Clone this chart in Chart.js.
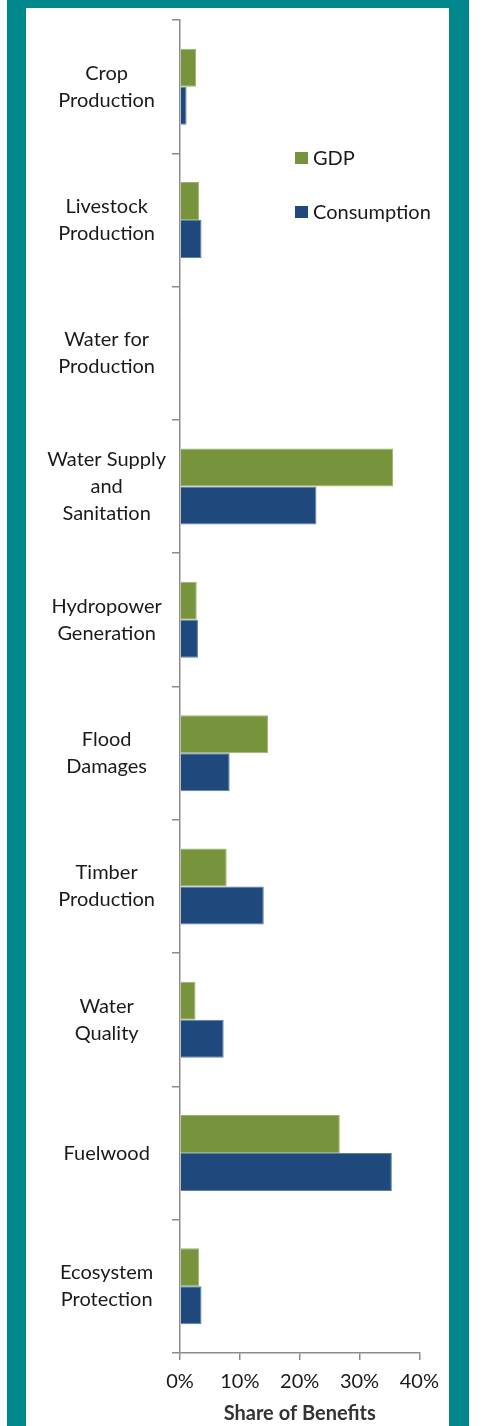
<!DOCTYPE html>
<html>
<head>
<meta charset="utf-8">
<script src="https://cdn.jsdelivr.net/npm/chart.js@4"></script>
<style>
    body { margin: 0; background: #ffffff; }
    #frame { position: absolute; left: 7px; top: 0; width: 462px; height: 1426px; background: #00878c; }
    #panel { position: absolute; left: 19px; top: 8px; width: 423px; height: 1418px; background: #ffffff; }
</style>
</head>
<body>
<div id="frame">
    <div id="panel">
        <canvas id="benefitsChart" width="423" height="1418"></canvas>
    </div>
</div>
<script>
// PART DES BENEFICES PAR SECTEUR

const categories = [
    ['Crop', 'Production'],
    ['Livestock', 'Production'],
    ['Water for', 'Production'],
    ['Water Supply', 'and', 'Sanitation'],
    ['Hydropower', 'Generation'],
    ['Flood', 'Damages'],
    ['Timber', 'Production'],
    ['Water', 'Quality'],
    'Fuelwood',
    ['Ecosystem', 'Protection'],
];

const gdpShare = [2.7, 3.2, 0.2, 35.6, 2.8, 14.7, 7.8, 2.6, 26.7, 3.2];
const consumptionShare = [1.1, 3.6, 0.15, 22.8, 3.0, 8.3, 14.0, 7.3, 35.4, 3.6];

const xTicks = [0, 10, 20, 30, 40];

const axisColor = '#8c8c8c';
const textFont = 'Lato, "Open Sans", sans-serif';

// legende a droite, dans la zone du graphique
const sideLegend = {
    id: 'sideLegend',
    afterDraw(chart) {
        const ctx = chart.ctx;
        const rows = [150, 204];
        ctx.save();
        ctx.font = '20px ' + textFont;
        ctx.textBaseline = 'middle';
        ctx.textAlign = 'left';
        chart.data.datasets.forEach((ds, i) => {
            ctx.fillStyle = ds.backgroundColor;
            ctx.fillRect(269, rows[i] - 6, 13, 12);
            ctx.fillStyle = '#1a1a1a';
            ctx.fillText(ds.label, 287, rows[i] + 1);
        });
        ctx.restore();
    }
};

const data = {
    labels: categories,
    datasets: [{
        label: 'GDP',
        data: gdpShare,
        backgroundColor: '#77933c',
        borderColor: '#9fb46f',
        borderWidth: 1,
    }, {
        label: 'Consumption',
        data: consumptionShare,
        backgroundColor: '#1f497d',
        borderColor: '#5b7fab',
        borderWidth: 1,
    }]
};

const config = {
    type: 'bar',
    data: data,
    options: {
        responsive: false,
        animation: false,
        indexAxis: 'y',
        categoryPercentage: 0.57,
        barPercentage: 1.0,
        layout: { padding: { top: 12, left: 0, right: 0, bottom: 0 } },
        plugins: {
            legend: { display: false },
            tooltip: { enabled: false },
        },
        scales: {
            x: {
                min: 0,
                max: 40,
                afterFit: (scale) => { scale.height = 73; },
                afterBuildTicks: (scale) => { scale.ticks = xTicks.map(v => ({ value: v })); },
                grid: { drawOnChartArea: false, drawTicks: true, tickLength: 7, color: axisColor, lineWidth: 1.5 },
                border: { color: axisColor, width: 1.5 },
                ticks: {
                    color: '#1a1a1a',
                    font: { family: textFont, size: 20 },
                    padding: 10,
                    maxRotation: 0,
                    callback: (v) => v + '%',
                },
                title: {
                    display: true,
                    text: 'Share of Benefits',
                    color: '#333333',
                    font: { family: textFont, size: 20, weight: 'bold' },
                    padding: { top: 0, bottom: 0 },
                },
            },
            y: {
                afterFit: (scale) => {
                    scale.width = 154;
                    scale.paddingTop = 0;
                    scale.paddingBottom = 0;
                },
                grid: { drawOnChartArea: false, drawTicks: true, tickLength: 8, color: axisColor, lineWidth: 1.5, offset: true },
                border: { color: axisColor, width: 1.5 },
                ticks: {
                    color: '#1a1a1a',
                    font: { family: textFont, size: 20, lineHeight: 1.35 },
                    crossAlign: 'center',
                    padding: 6,
                },
            },
        },
    },
    plugins: [sideLegend],
};

const benefitsChart = new Chart(
    document.getElementById('benefitsChart'),
    config
);

// FIN GRAPH
</script>
</body>
</html>
